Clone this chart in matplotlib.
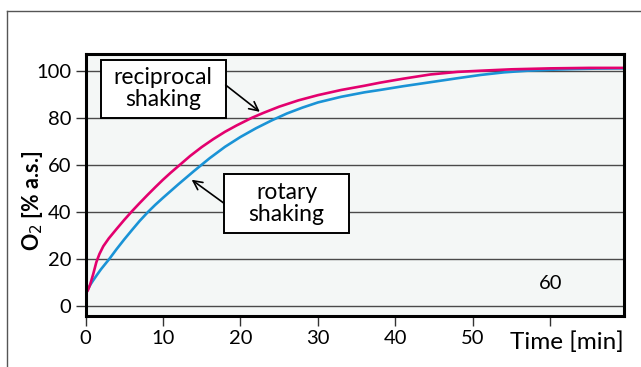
import matplotlib
matplotlib.use("Agg")
import matplotlib.pyplot as plt
from matplotlib.lines import Line2D
from matplotlib.patches import Rectangle

plt.rcParams['font.family'] = ['Lato', 'DejaVu Sans']

# reciprocal shaking (red)
t_recip = [0, 0.3, 0.6, 1.0, 1.4, 1.8, 2.3, 3, 4, 5, 6, 7, 8, 9, 10, 11, 12.2, 13.5, 15, 16.5,
           18, 19.5, 21.5, 23, 25, 27.5, 30, 33, 36, 38, 41, 44.5, 48, 51, 55, 60, 65, 69.5]
o2_recip = [5, 6.5, 9, 13.5, 18.5, 22, 25.3, 28.6, 32.6, 36.5, 40.2, 43.7, 47.1, 50.4, 53.6, 56.6, 60, 63.7, 67.5, 70.9,
            74.0, 76.7, 80, 82.1, 84.7, 87.4, 89.6, 91.8, 93.6, 94.9, 96.6, 98.4, 99.5, 100, 100.6, 101, 101.2, 101.2]

# rotary shaking (blue)
t_rot = [0, 0.6, 1, 1.5, 2, 3.1, 4, 5, 6, 7, 8.1, 9, 10, 11, 12, 13, 14, 15, 16, 18, 20, 22, 24, 26,
         28, 30, 33, 36, 38, 41, 44.5, 48, 51, 54, 57, 60, 63, 66, 69.5]
o2_rot = [5, 8.8, 10.8, 13.2, 15.5, 20, 24, 28.2, 32.2, 36.1, 40, 42.9, 45.9, 48.8, 51.7, 54.5, 57.3, 60, 62.7, 67.6,
          71.8, 75.5, 78.8, 81.8, 84.3, 86.5, 88.9, 90.8, 91.8, 93.4, 95.1, 96.8, 98.2, 99.3, 100, 100.4, 100.7, 100.9, 101]

xticks = [0, 10, 20, 30, 40, 50, 60]
xticklabels = ['0', '10', '20', '30', '40', '50', '']
yticks = [0, 20, 40, 60, 80, 100]

fig = plt.figure(figsize=(6.41, 3.67), dpi=100)
ax = fig.add_axes([85.5/641, 1-316/367, (624-85.5)/641, (316-54.5)/367])
ax.set_facecolor('#f4f7f6')

for y in yticks:
    ax.axhline(y, color='#4a4a4a', lw=1, zorder=1)

ax.plot(t_rot, o2_rot, color='#1a93d6', lw=1.9, zorder=3)
ax.plot(t_recip, o2_recip, color='#e3006e', lw=1.9, zorder=3)

ax.set_xlim(0, 69.5)
ax.set_ylim(-4.4, 106.9)
ax.set_xticks(xticks)
ax.set_xticklabels(xticklabels)
ax.set_yticks(yticks)
ax.tick_params(axis='both', labelsize=14.5, length=7, width=1, color='#333333', pad=3)
for s in ax.spines.values():
    s.set_linewidth(2.2)
    s.set_color('black')
    s.set_zorder(5)

ax.text(60, 9.3, '60', ha='center', va='center', fontsize=14.5)

ax.set_ylabel(r'O$_2$ [% a.s.]', fontsize=15.5, fontweight='bold')
ax.yaxis.set_label_coords(-0.075, 0.44)
fig.text(624/641, 1-342/367, 'Time [min]', ha='right', va='center', fontsize=17.5)

# label boxes (same size for both)
ax.add_patch(Rectangle((1.96, 79.9), 16.13, 24.8, fc='white', ec='black', lw=1.4, zorder=6))
ax.text(10.0, 92.3, 'reciprocal\nshaking', ha='center', va='center', fontsize=16.5,
        linespacing=1.05, zorder=7)
ax.annotate('', xy=(22.5, 82.5), xytext=(18.09, 93.9),
            arrowprops=dict(arrowstyle='->', color='black', lw=1.2,
                            shrinkA=0, shrinkB=0, mutation_scale=16), zorder=6)

ax.add_patch(Rectangle((17.87, 31.0), 16.17, 25.2, fc='white', ec='black', lw=1.4, zorder=6))
ax.text(25.95, 43.6, 'rotary\nshaking', ha='center', va='center', fontsize=16.5,
        linespacing=1.05, zorder=7)
ax.annotate('', xy=(13.7, 53.6), xytext=(17.87, 43.6),
            arrowprops=dict(arrowstyle='->', color='black', lw=1.2,
                            shrinkA=0, shrinkB=0, mutation_scale=16), zorder=6)

# outer frame
fig.add_artist(Line2D([7/641, 1], [1-10.5/367, 1-10.5/367], color='#555555', lw=1))
fig.add_artist(Line2D([7/641, 7/641], [0, 1-10.5/367], color='#555555', lw=1))

fig.savefig('out.png', dpi=100)
